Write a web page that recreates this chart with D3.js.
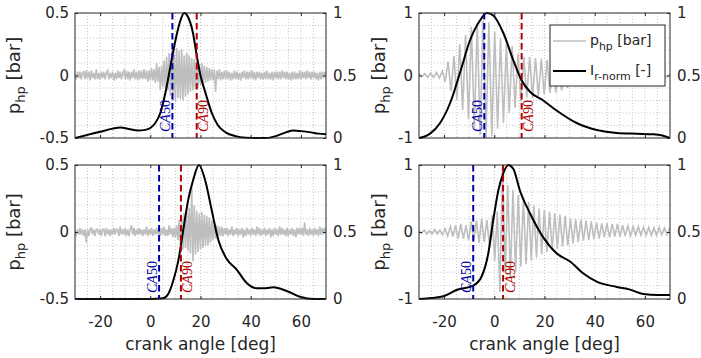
<!DOCTYPE html>
<html>
<head>
<meta charset="utf-8">
<script src="https://cdn.jsdelivr.net/npm/d3@7"></script>
<style>
  body { margin: 0; background: #fff; }
  text { font-family: "DejaVu Sans", sans-serif; fill: #262626; }
</style>
</head>
<body>
<svg id="chart" width="701" height="358"></svg>
<script>
// crank angle axis
var crankRange = [-30, 70];
var xTicks = [-20, 0, 20, 40, 60];
var rightRange = [0, 1];
var rightTicks = [0, 0.5, 1];

// left axis ranges / ticks per panel (TL, TR, BL, BR)
var leftRangeSmall = [-0.5, 0.5];
var leftTicksSmall = [-0.5, 0, 0.5];
var leftRangeBig = [-1, 1];
var leftTicksBig = [-1, 0, 1];

// p_hp signal, left panels sampled every 0.5 deg from -30
var phpStepLeft = 0.5;
var phpTL = [
  .01,-.03,.03,-.02,.03,-.03,.02,.03,-.03,.04,
  -.02,.03,-.04,.04,-.02,.02,-.03,.05,-.03,.02,
  -.03,.03,-.02,.03,-.03,.02,.04,-.03,.02,-.02,
  .03,-.04,.02,-.03,.04,-.02,.03,-.03,.02,.04,
  -.03,.04,-.03,.03,-.04,.03,-.02,.05,-.03,.03,
  -.04,.04,-.03,.04,-.03,.05,-.03,.04,-.05,.04,
  -.04,.06,-.04,.05,-.06,.1,-.05,.07,-.12,.08,
  -.09,.12,-.1,.15,-.12,.18,-.16,.2,-.2,.17,
  -.21,.22,-.18,.2,-.19,.21,-.2,.16,-.17,.18,
  -.15,.16,-.13,.14,-.12,.13,-.11,.12,-.1,.09,
  -.08,.1,-.07,.08,-.06,.07,-.05,.06,-.04,.05,
  -.04,.05,-.13,.04,-.03,.05,-.04,.03,-.03,.04,
  -.03,.04,-.03,.03,-.04,.02,-.03,.04,-.03,.03,
  -.03,.02,-.04,.03,-.02,.04,-.03,.03,-.03,.03,
  -.02,.04,-.03,.03,-.04,.03,-.02,.03,-.03,.02,
  -.03,.03,-.03,.04,-.03,.02,-.03,.03,-.04,.03,
  -.02,.03,-.03,.03,-.03,.04,-.02,.03,-.03,.03,
  -.03,.02,-.04,.03,-.03,.03,-.03,.02,-.03,.04,
  -.03,.03,-.02,.03,-.03,.04,-.02,.03,-.03,.03,
  -.02,.03,-.03,.02,-.04,.03,-.03,.03,-.02,.03,
  -.01
];
var phpBL = [
  .01,-.02,.02,-.02,.03,-.02,.02,-.03,.02,-.08,
  .02,-.03,.02,.03,-.02,.02,-.03,.02,.02,-.02,
  .02,-.03,.02,.02,-.03,.03,-.02,.02,-.03,.02,
  -.02,.03,-.02,.02,.02,-.03,.04,-.02,.02,-.02,
  .03,-.03,.02,-.03,.02,.05,-.02,.03,-.03,.02,
  -.02,.03,-.02,.02,-.03,.02,-.02,.04,-.03,.02,
  -.02,.03,-.03,.02,-.02,.03,-.02,.02,-.03,.03,
  -.02,.04,-.03,.02,-.03,.05,-.02,.03,-.04,.03,
  -.04,.05,-.06,.09,-.1,.12,-.13,.14,-.12,.15,
  -.14,.18,-.16,.34,-.22,.2,-.17,.16,-.15,.14,
  -.13,.15,-.12,.13,-.1,.12,-.1,.11,-.08,.09,
  -.06,.07,-.05,.05,-.04,.04,-.03,.04,-.03,.03,
  -.02,.03,-.03,.02,-.02,.04,-.03,.02,-.02,.03,
  -.03,.02,-.02,.03,-.04,.02,-.03,.03,-.02,.02,
  -.03,.03,-.02,.02,-.03,.04,-.02,.03,-.03,.02,
  -.02,.03,-.03,.02,-.02,.03,-.04,.02,-.03,.03,
  -.02,.02,-.03,.04,-.02,.03,-.02,.02,-.03,.03,
  -.03,.02,-.02,.03,-.03,.02,-.04,.03,-.02,.03,
  -.02,.03,-.03,.07,-.02,.02,-.03,.03,-.02,.02,
  -.03,.03,-.02,.02,-.03,.04,-.02,.03,-.02,.03,
  -.01
];
// p_hp signal, right panels: successive peaks / troughs from -30
var phpStepTR = 1.16;
var phpTR = [
  .03,-.02,.03,-.03,.04,-.03,.05,-.04,
  .07,-.1,.22,-.25,.31,-.39,.5,-.55,
  .65,-.7,.78,-.84,.84,-.95,.88,-1,
  .85,-.97,.7,-.85,.6,-.76,.5,-.6,
  .47,-.52,.35,-.42,.3,-.35,.3,-.36,
  .28,-.33,.27,-.3,.25,-.28,.22,-.27,
  .2,-.24,.18,-.2,.16,-.16,.14,-.14,
  .12,-.12,.11,-.1,.09,-.09,.08,-.08,
  .07,-.07,.07,-.06,.06,-.06,.05,-.05,
  .05,-.04,.04,-.04,.04,-.03,.04,-.03,
  .03,-.03,.04,-.02,.03,-.03,.02
];
var phpStepBR = 1.04;
var phpBR = [
  .02,-.02,.03,-.03,.02,-.03,.04,-.03,.03,-.04,
  .05,-.06,.08,-.07,.1,-.1,.12,-.1,.1,-.12,
  .15,-.14,.17,-.16,.2,-.15,.18,-.2,.25,-.43,
  .3,-.9,.98,-.6,.7,-.67,.63,-.6,.55,-.52,
  .5,-.48,.45,-.42,.4,-.38,.35,-.33,.33,-.3,
  .3,-.27,.28,-.25,.26,-.22,.24,-.2,.2,-.17,
  .19,-.15,.18,-.13,.17,-.12,.16,-.11,.14,-.1,
  .13,-.08,.13,-.08,.12,-.07,.12,-.07,.1,-.06,
  .09,-.06,.08,-.05,.08,-.05,.07,-.05,.07,-.05,
  .06,-.05,.07,-.04,.06,-.04,.05
];

// normalised intensity I_r-norm
var iAngTL = [-30,-25,-20,-15,-12,-8,-5,-2,0,2,4,6,8,10,12,13.5,15,17,18.5,20,22,24.5,27,30,34,38,42,46,50,54,57,60,64,67,70];
var iValTL = [0,.025,.05,.075,.085,.07,.06,.065,.08,.12,.2,.36,.57,.78,.94,1,.97,.84,.66,.5,.36,.2,.1,.045,.015,.003,0,0,.015,.045,.06,.055,.045,.035,.03];
var iAngTR = [-30,-28,-25.6,-21.6,-17.6,-13.7,-9.7,-5.7,-3,-0.4,3.6,7.6,10.9,14.2,19.5,24.8,32.8,40.8,48.8,56.8,63.4,67,70];
var iValTR = [0,.01,.035,.12,.28,.52,.78,.94,1,.98,.84,.62,.46,.37,.3,.22,.12,.064,.04,.034,.03,.02,0];
var iAngBL = [-30,-20,-10,0,5,7.2,9.2,11.2,13.1,15.1,17.1,19.4,21.8,24.5,27.1,30.4,34.4,38.4,42.4,46,49,54.3,59.6,65,70];
var iValBL = [0,0,0,0,.005,.04,.14,.29,.51,.74,.89,1,.89,.66,.44,.3,.22,.12,.08,.08,.087,.06,.017,0,0];
var iAngBR = [-30,-25,-20.3,-15,-8.4,-5,-2.4,-0.4,1.6,3.6,5.6,7.6,10.2,14.2,19.5,24.9,30.2,35.5,40.8,48.8,54.1,59.4,65,70];
var iValBR = [0,.008,.02,.067,.1,.17,.34,.59,.81,.94,1,.97,.81,.64,.46,.34,.28,.19,.13,.09,.07,.037,.03,.03];

// CA50 / CA90 crank angles [deg]
var ca50 = [8.8, -4.0, 3.5, -8.4];
var ca90 = [18.5, 10.9, 12.2, 3.5];

var legendLabels = ['p_hp [bar]', 'I_r-norm [-]'];

// ---------------------------------------------------------------
var phpColor = '#bebebe', iColor = '#000', ca50Color = '#0000a8', ca90Color = '#b00000';
var axColor = '#262626';

var panels = [
  {left: leftRangeSmall, lticks: leftTicksSmall, php: phpTL, step: phpStepLeft, ia: iAngTL, iv: iValTL,
   box: {x: 75, y: 13, w: 251, h: 125}, xlabels: false, legend: false, ylx: 20},
  {left: leftRangeBig, lticks: leftTicksBig, php: phpTR, step: phpStepTR, ia: iAngTR, iv: iValTR,
   box: {x: 419, y: 13, w: 251, h: 125}, xlabels: false, legend: true, ylx: 385},
  {left: leftRangeSmall, lticks: leftTicksSmall, php: phpBL, step: phpStepLeft, ia: iAngBL, iv: iValBL,
   box: {x: 75, y: 165, w: 251, h: 134}, xlabels: true, legend: false, ylx: 20},
  {left: leftRangeBig, lticks: leftTicksBig, php: phpBR, step: phpStepBR, ia: iAngBR, iv: iValBR,
   box: {x: 419, y: 165, w: 251, h: 134}, xlabels: true, legend: false, ylx: 385}
];

var svg = d3.select('#chart');
var defs = svg.append('defs');

function fmt(v) { return String(v); }

panels.forEach(function(p, k) {
  var b = p.box;
  var x = d3.scaleLinear().domain(crankRange).range([b.x, b.x + b.w]);
  var yl = d3.scaleLinear().domain(p.left).range([b.y + b.h, b.y]);
  var yr = d3.scaleLinear().domain(rightRange).range([b.y + b.h, b.y]);
  var g = svg.append('g');

  defs.append('clipPath').attr('id', 'clip' + k)
    .append('rect').attr('x', b.x).attr('y', b.y - 1).attr('width', b.w).attr('height', b.h + 2);

  // dotted grid (every 5 deg, every tenth of the left range)
  var gx = d3.range(crankRange[0] + 5, crankRange[1], 5);
  var span = p.left[1] - p.left[0];
  var gy = d3.range(1, 10).map(function(i) { return p.left[0] + span * i / 10; });
  g.selectAll('.gx').data(gx).enter().append('line')
    .attr('x1', function(d) { return x(d); }).attr('x2', function(d) { return x(d); })
    .attr('y1', b.y).attr('y2', b.y + b.h)
    .attr('stroke', '#c8c8c8').attr('stroke-width', 1).attr('stroke-dasharray', '1,2');
  g.selectAll('.gy').data(gy).enter().append('line')
    .attr('y1', function(d) { return yl(d); }).attr('y2', function(d) { return yl(d); })
    .attr('x1', b.x).attr('x2', b.x + b.w)
    .attr('stroke', '#c8c8c8').attr('stroke-width', 1).attr('stroke-dasharray', '1,2');

  var plot = g.append('g').attr('clip-path', 'url(#clip' + k + ')');

  // p_hp
  var phpLine = d3.line()
    .x(function(d, i) { return x(crankRange[0] + i * p.step); })
    .y(function(d) { return yl(d); });
  plot.append('path').datum(p.php).attr('d', phpLine)
    .attr('fill', 'none').attr('stroke', phpColor).attr('stroke-width', 1.6);

  // intensity
  var iLine = d3.line().curve(d3.curveMonotoneX)
    .x(function(d, i) { return x(p.ia[i]); })
    .y(function(d) { return yr(d); });
  plot.append('path').datum(p.iv).attr('d', iLine)
    .attr('fill', 'none').attr('stroke', iColor).attr('stroke-width', 2);

  // CA50 / CA90 markers
  [[ca50[k], ca50Color, '50', -2.5], [ca90[k], ca90Color, '90', 11.5]].forEach(function(m) {
    var cx = x(m[0]);
    plot.append('line').attr('x1', cx).attr('x2', cx).attr('y1', b.y).attr('y2', b.y + b.h)
      .attr('stroke', m[1]).attr('stroke-width', 2).attr('stroke-dasharray', '6.5,3.5');
    var t = g.append('text')
      .attr('transform', 'translate(' + (cx + m[3]) + ',' + (b.y + b.h - 6) + ') rotate(-90)')
      .style('font-family', '"Liberation Serif", serif').style('font-size', '14px').style('fill', m[1]);
    t.append('tspan').style('font-style', 'italic').text('CA');
    t.append('tspan').text(m[2]);
  });

  // box
  g.append('rect').attr('x', b.x).attr('y', b.y).attr('width', b.w).attr('height', b.h)
    .attr('fill', 'none').attr('stroke', axColor).attr('stroke-width', 1);

  // axes
  g.append('g').attr('transform', 'translate(0,' + (b.y + b.h) + ')')
    .call(d3.axisBottom(x).tickValues(xTicks).tickSizeInner(-3).tickSizeOuter(0).tickPadding(17)
      .tickFormat(p.xlabels ? fmt : function() { return ''; }));
  g.append('g').attr('transform', 'translate(0,' + b.y + ')')
    .call(d3.axisTop(x).tickValues(xTicks).tickSizeInner(-3).tickSizeOuter(0).tickFormat(function() { return ''; }));
  g.append('g').attr('transform', 'translate(' + b.x + ',0)')
    .call(d3.axisLeft(yl).tickValues(p.lticks).tickSizeInner(-3).tickSizeOuter(0).tickPadding(6).tickFormat(fmt));
  g.append('g').attr('transform', 'translate(' + (b.x + b.w) + ',0)')
    .call(d3.axisRight(yr).tickValues(rightTicks).tickSizeInner(-3).tickSizeOuter(0).tickPadding(7).tickFormat(fmt));
  g.selectAll('.domain').remove();
  g.selectAll('.tick line').attr('stroke', axColor);
  g.selectAll('.tick text').style('font-family', '"DejaVu Sans", sans-serif').style('font-size', '15px').style('fill', axColor);

  // y label
  var yt = g.append('text')
    .attr('transform', 'translate(' + p.ylx + ',' + (b.y + b.h / 2) + ') rotate(-90)')
    .attr('text-anchor', 'middle').style('font-size', '18px');
  yt.append('tspan').text('p');
  yt.append('tspan').attr('dy', 5).style('font-size', '13px').text('hp');
  yt.append('tspan').attr('dy', -5).text(' [bar]');

  // x label
  if (p.xlabels) {
    g.append('text').attr('x', b.x + b.w / 2).attr('y', 350)
      .attr('text-anchor', 'middle').style('font-size', '17px').text('crank angle [deg]');
  }

  // legend
  if (p.legend) {
    var lg = g.append('g');
    lg.append('rect').attr('x', 550).attr('y', 25).attr('width', 115).attr('height', 61)
      .attr('fill', '#fff').attr('stroke', axColor).attr('stroke-width', 1);
    [[phpColor, 1.6, 41], [iColor, 2, 71]].forEach(function(e, j) {
      lg.append('line').attr('x1', 553).attr('x2', 586).attr('y1', e[2]).attr('y2', e[2])
        .attr('stroke', e[0]).attr('stroke-width', e[1]);
      var parts = legendLabels[j].split('_');
      var sub = parts[1].split(' ');
      var lt = lg.append('text').attr('x', 590).attr('y', e[2] + 4).style('font-size', '14px');
      lt.append('tspan').text(parts[0]);
      lt.append('tspan').attr('dy', 5).style('font-size', '11px').text(sub[0]);
      lt.append('tspan').attr('dy', -5).text(' ' + sub[1]);
    });
  }
});
</script>
</body>
</html>
